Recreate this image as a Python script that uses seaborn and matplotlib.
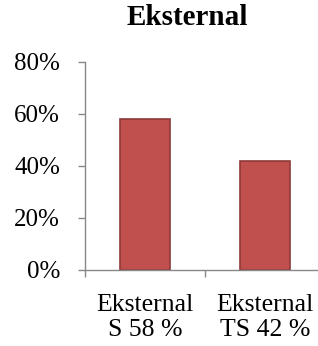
import matplotlib
matplotlib.use("Agg")
import matplotlib.pyplot as plt
import pandas as pd
import seaborn as sns

categories = ["Eksternal\nS 58 %", "Eksternal\nTS 42 %"]
values = [0.58, 0.42]
yticks = [0.0, 0.2, 0.4, 0.6, 0.8]
ytick_labels = ["0%", "20%", "40%", "60%", "80%"]

df = pd.DataFrame({"kategori": categories, "nilai": values})

sns.set_style("white")
plt.rcParams["font.family"] = ["Liberation Serif", "DejaVu Serif"]
plt.rcParams["text.color"] = "black"
plt.rcParams["xtick.color"] = "#888888"
plt.rcParams["ytick.color"] = "#888888"
plt.rcParams["xtick.labelcolor"] = "black"
plt.rcParams["ytick.labelcolor"] = "black"

fig = plt.figure(figsize=(3.18, 3.46), dpi=100)
ax = fig.add_axes([85 / 318, 1 - 270 / 346, 240 / 318, 208 / 346])

sns.barplot(data=df, x="kategori", y="nilai", ax=ax, color="#C0504D",
            width=0.42, edgecolor="#8E3A38", linewidth=1.2, saturation=1)

ax.set_xlim(-0.5, 1.5)
ax.set_ylim(0, 0.8)
ax.set_yticks(yticks)
ax.set_yticklabels(ytick_labels, fontsize=18)
ax.set_xlabel("")
ax.set_ylabel("")
ax.tick_params(axis="x", which="major", length=0, labelsize=18.5, pad=17)
ax.set_xticks([-0.5, 0.5, 1.5], minor=True)
ax.tick_params(axis="x", which="minor", bottom=True, length=5, width=1)
ax.tick_params(axis="y", left=True, length=5, width=1, pad=13)
for lab in ax.get_xticklabels():
    lab.set_linespacing(1.2)

for side in ["top", "right"]:
    ax.spines[side].set_visible(False)
for side in ["left", "bottom"]:
    ax.spines[side].set_color("#888888")
    ax.spines[side].set_linewidth(1)

fig.text(0.588, 0.948, "Eksternal", ha="center", va="center",
         fontsize=21, fontweight="bold")

fig.savefig("out.png", dpi=100)
